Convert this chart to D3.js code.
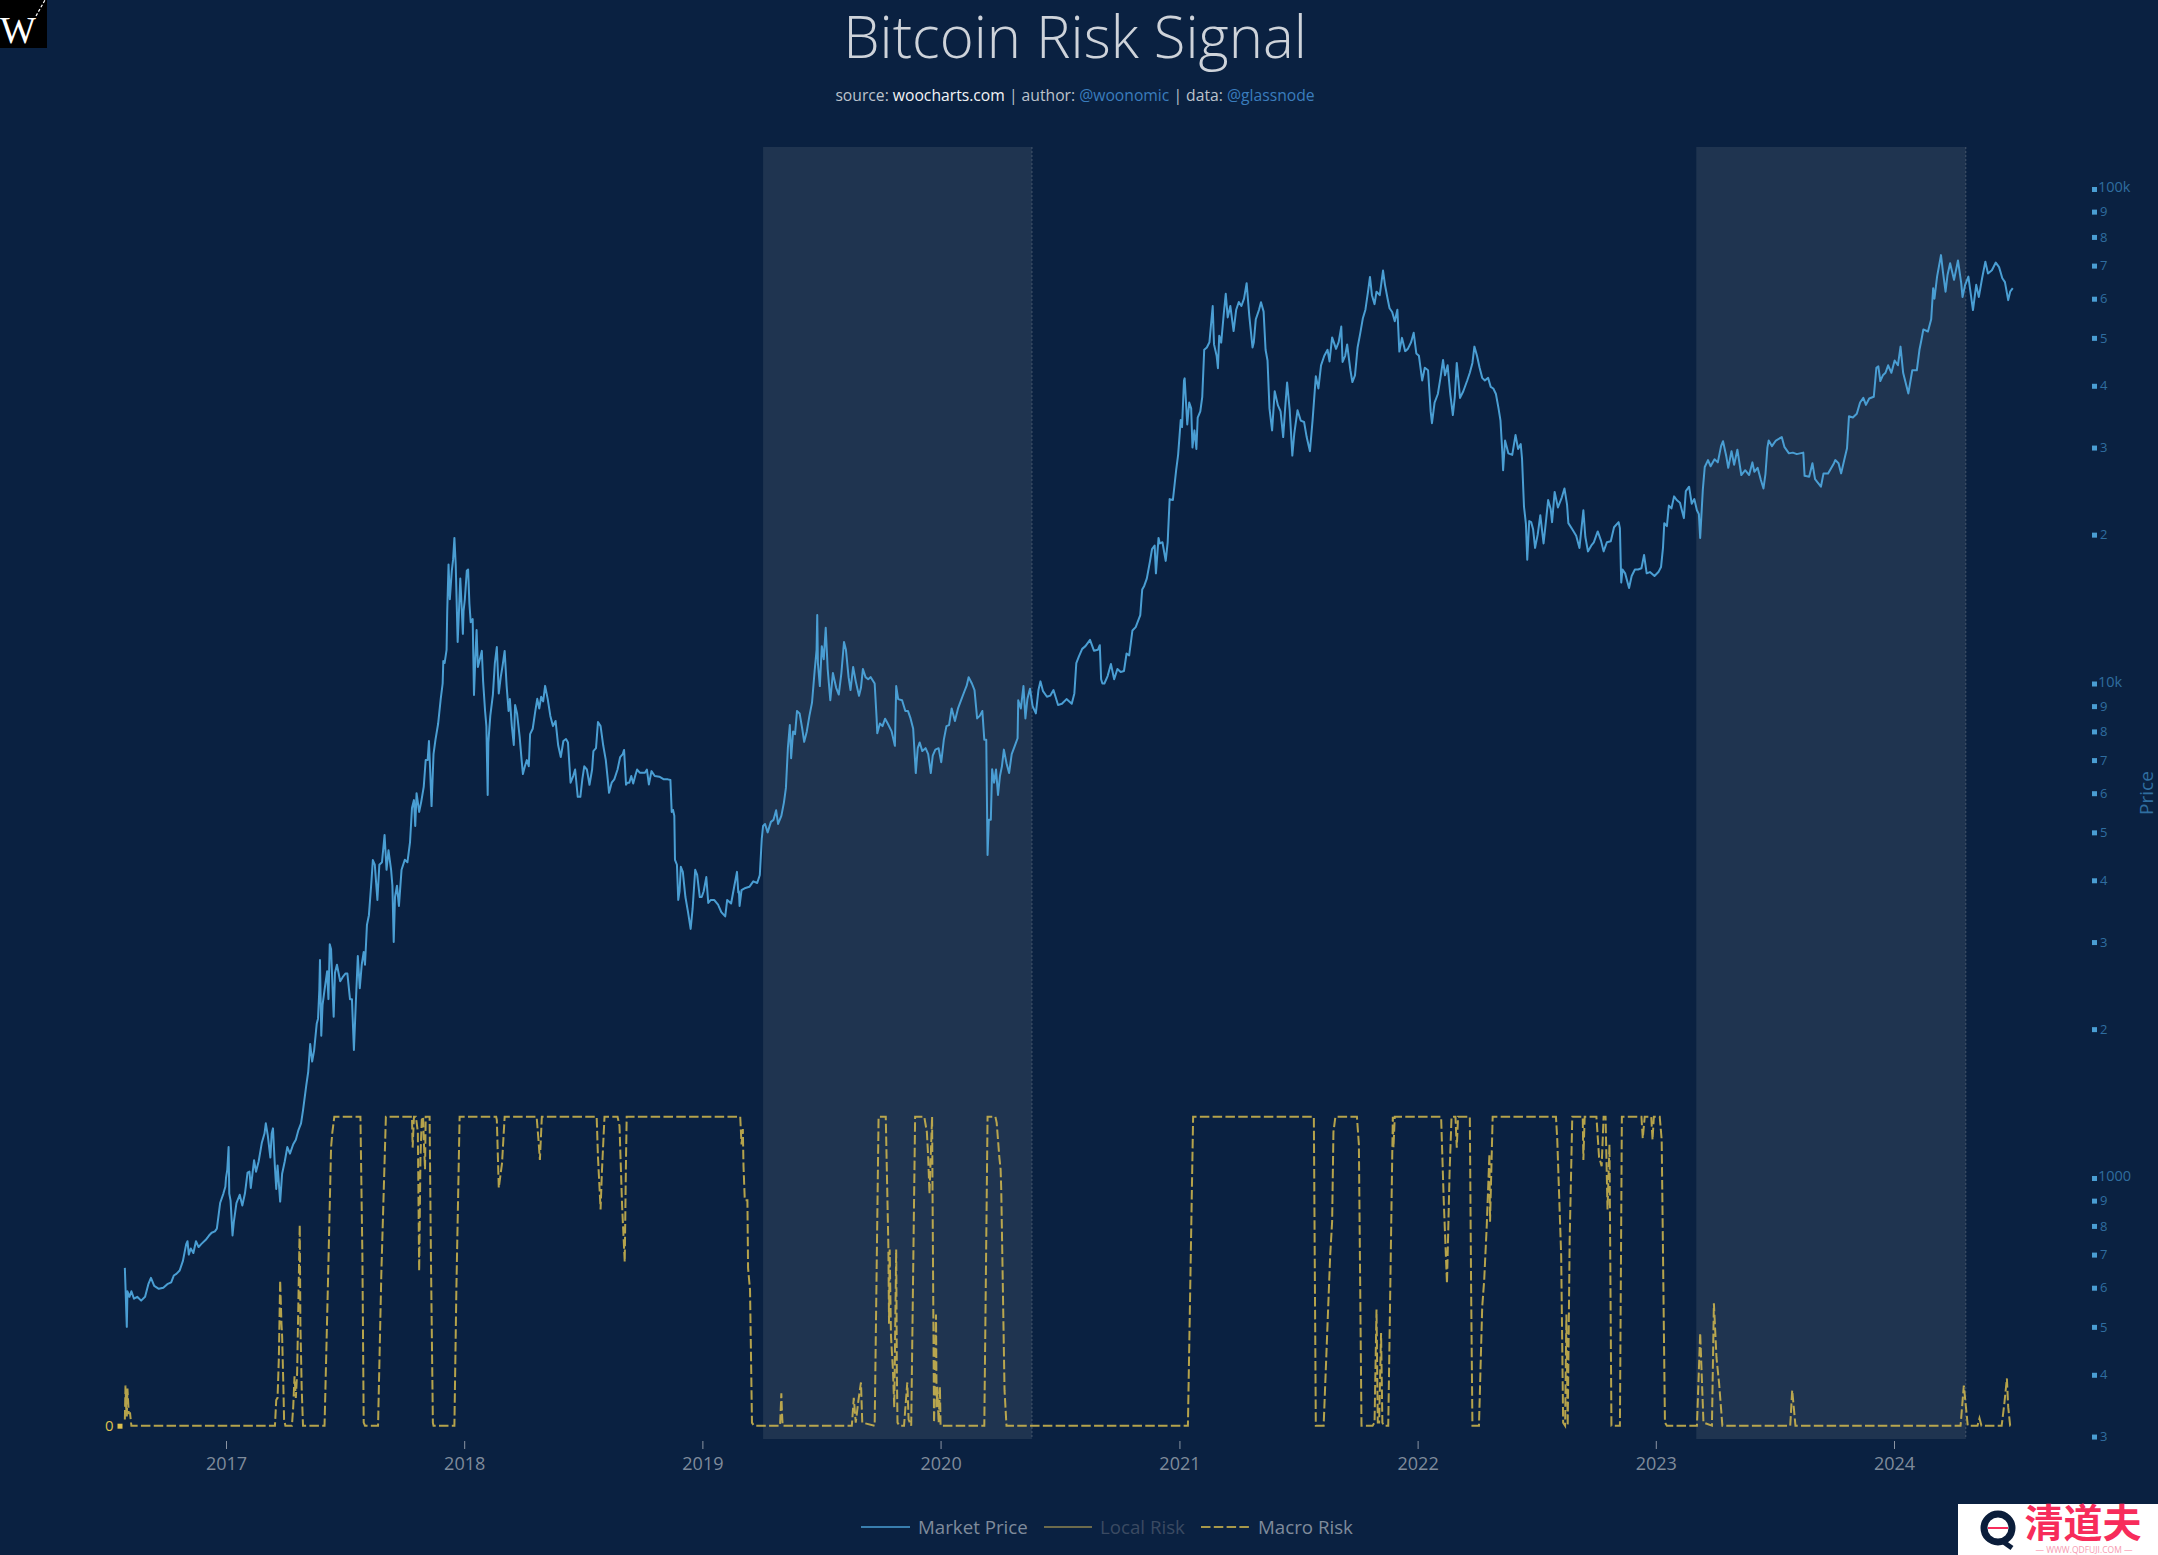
<!DOCTYPE html>
<html>
<head>
<meta charset="utf-8">
<title>Bitcoin Risk Signal</title>
<script src="https://cdnjs.cloudflare.com/ajax/libs/d3/7.8.5/d3.min.js"></script>
<style>
  html, body { margin: 0; padding: 0; background: #0a2141; }
  svg { display: block; font-family: "Open Sans", sans-serif; }
</style>
</head>
<body>
<svg id="chart" width="2158" height="1555"></svg>
<script>
// Market price, one array per year
const price2016 = [["2016-07-30",658],["2016-08-02",500],["2016-08-03",590],["2016-08-06",575],["2016-08-09",590],["2016-08-13",570],["2016-08-18",575],["2016-08-24",565],["2016-08-30",575],["2016-09-04",610],["2016-09-08",628],["2016-09-13",605],["2016-09-20",597],["2016-09-27",600],["2016-10-03",610],["2016-10-09",615],["2016-10-13",635],["2016-10-17",640],["2016-10-22",650],["2016-10-27",680],["2016-11-01",735],["2016-11-03",745],["2016-11-05",700],["2016-11-08",720],["2016-11-12",705],["2016-11-16",745],["2016-11-20",725],["2016-11-24",735],["2016-12-01",750],["2016-12-06",765],["2016-12-10",775],["2016-12-15",780],["2016-12-18",790],["2016-12-23",890],["2016-12-28",930],["2016-12-31",960]];
const price2017 = [["2017-01-01",1000],["2017-01-03",1040],["2017-01-05",1155],["2017-01-06",930],["2017-01-08",900],["2017-01-11",765],["2017-01-13",815],["2017-01-17",890],["2017-01-22",925],["2017-01-26",880],["2017-01-30",930],["2017-02-03",1025],["2017-02-06",1030],["2017-02-08",955],["2017-02-13",1086],["2017-02-16",1030],["2017-02-20",1080],["2017-02-25",1180],["2017-03-01",1230],["2017-03-03",1290],["2017-03-06",1220],["2017-03-10",1100],["2017-03-12",1230],["2017-03-14",1260],["2017-03-17",1050],["2017-03-19",950],["2017-03-21",1060],["2017-03-25",896],["2017-03-28",1020],["2017-04-01",1080],["2017-04-05",1155],["2017-04-09",1120],["2017-04-14",1170],["2017-04-18",1195],["2017-04-22",1250],["2017-04-26",1290],["2017-04-29",1370],["2017-05-04",1540],["2017-05-07",1640],["2017-05-10",1866],["2017-05-13",1720],["2017-05-16",1810],["2017-05-20",2050],["2017-05-22",2100],["2017-05-24",2400],["2017-05-25",2760],["2017-05-27",1940],["2017-05-29",2240],["2017-06-01",2400],["2017-06-05",2620],["2017-06-07",2300],["2017-06-09",2970],["2017-06-11",2900],["2017-06-15",2118],["2017-06-17",2600],["2017-06-20",2700],["2017-06-25",2500],["2017-06-29",2550],["2017-07-03",2590],["2017-07-06",2590],["2017-07-10",2300],["2017-07-13",2300],["2017-07-16",1815],["2017-07-19",2270],["2017-07-22",2810],["2017-07-25",2420],["2017-07-28",2700],["2017-07-31",2864],["2017-08-02",2700],["2017-08-05",3250],["2017-08-08",3400],["2017-08-12",4000],["2017-08-14",4395],["2017-08-17",4300],["2017-08-21",3650],["2017-08-24",4300],["2017-08-28",4350],["2017-09-01",4940],["2017-09-04",4200],["2017-09-07",4600],["2017-09-11",4200],["2017-09-13",3900],["2017-09-15",3000],["2017-09-17",3700],["2017-09-20",3900],["2017-09-23",3550],["2017-09-27",4200],["2017-10-02",4400],["2017-10-06",4350],["2017-10-10",4780],["2017-10-13",5600],["2017-10-16",5810],["2017-10-18",5150],["2017-10-20",6000],["2017-10-24",5500],["2017-10-27",5750],["2017-10-31",6180],["2017-11-03",7000],["2017-11-06",7000],["2017-11-08",7650],["2017-11-10",6600],["2017-11-12",5650],["2017-11-15",7200],["2017-11-18",7700],["2017-11-22",8280],["2017-11-26",9300],["2017-11-29",10000],["2017-11-30",11100],["2017-12-02",11000],["2017-12-05",11700],["2017-12-06",14000],["2017-12-08",17400],["2017-12-10",14800],["2017-12-13",16900],["2017-12-15",17800],["2017-12-17",19700],["2017-12-19",17400],["2017-12-22",12130],["2017-12-24",14000],["2017-12-26",16300],["2017-12-28",14400],["2017-12-30",12600],["2017-12-31",14000]];
const price2018 = [["2018-01-02",14800],["2018-01-05",16900],["2018-01-07",17000],["2018-01-09",14500],["2018-01-11",13300],["2018-01-14",13500],["2018-01-16",9480],["2018-01-18",11200],["2018-01-20",12830],["2018-01-22",10800],["2018-01-25",11200],["2018-01-28",11640],["2018-01-30",10100],["2018-02-02",8800],["2018-02-04",8200],["2018-02-06",5950],["2018-02-07",7600],["2018-02-10",8600],["2018-02-14",9500],["2018-02-17",11000],["2018-02-20",11850],["2018-02-23",9550],["2018-02-26",10300],["2018-03-01",10900],["2018-03-04",11640],["2018-03-07",9900],["2018-03-10",8800],["2018-03-12",9300],["2018-03-15",8200],["2018-03-18",7510],["2018-03-20",9050],["2018-03-23",8700],["2018-03-27",7800],["2018-03-30",7000],["2018-04-01",6560],["2018-04-04",6800],["2018-04-07",7000],["2018-04-10",6800],["2018-04-12",7900],["2018-04-16",8100],["2018-04-20",8800],["2018-04-23",9310],["2018-04-26",8900],["2018-04-29",9400],["2018-05-02",9200],["2018-05-05",9890],["2018-05-09",9300],["2018-05-13",8600],["2018-05-17",8200],["2018-05-21",8400],["2018-05-25",7500],["2018-05-29",7100],["2018-06-02",7650],["2018-06-06",7720],["2018-06-09",7600],["2018-06-13",6300],["2018-06-17",6500],["2018-06-20",6700],["2018-06-24",5900],["2018-06-28",5900],["2018-07-01",6400],["2018-07-04",6800],["2018-07-08",6700],["2018-07-12",6240],["2018-07-16",6700],["2018-07-18",7300],["2018-07-22",7400],["2018-07-25",8360],["2018-07-29",8200],["2018-08-02",7500],["2018-08-06",7000],["2018-08-09",6400],["2018-08-11",6010],["2018-08-15",6300],["2018-08-19",6400],["2018-08-24",6700],["2018-08-28",7100],["2018-09-01",7200],["2018-09-03",7340],["2018-09-06",6240],["2018-09-08",6300],["2018-09-11",6300],["2018-09-14",6500],["2018-09-17",6280],["2018-09-20",6500],["2018-09-23",6700],["2018-09-27",6600],["2018-10-01",6600],["2018-10-05",6600],["2018-10-08",6700],["2018-10-11",6250],["2018-10-15",6650],["2018-10-20",6500],["2018-10-27",6480],["2018-11-03",6400],["2018-11-09",6400],["2018-11-13",6380],["2018-11-15",5500],["2018-11-17",5550],["2018-11-19",5400],["2018-11-20",4400],["2018-11-23",4300],["2018-11-25",3650],["2018-11-27",3800],["2018-11-29",4260],["2018-12-02",4160],["2018-12-06",3700],["2018-12-10",3450],["2018-12-14",3190],["2018-12-17",3500],["2018-12-21",4200],["2018-12-24",4100],["2018-12-28",3700],["2018-12-31",3700]];
const price2019 = [["2019-01-03",3800],["2019-01-07",4060],["2019-01-10",3600],["2019-01-14",3650],["2019-01-19",3650],["2019-01-25",3570],["2019-01-30",3450],["2019-02-05",3380],["2019-02-08",3650],["2019-02-14",3590],["2019-02-19",3900],["2019-02-23",4160],["2019-02-25",3780],["2019-02-26",3800],["2019-02-27",3550],["2019-03-02",3820],["2019-03-08",3860],["2019-03-14",3880],["2019-03-20",3980],["2019-03-26",3950],["2019-03-30",4100],["2019-04-02",4850],["2019-04-04",5150],["2019-04-07",5200],["2019-04-11",5000],["2019-04-16",5250],["2019-04-20",5300],["2019-04-24",5540],["2019-04-27",5200],["2019-05-02",5400],["2019-05-06",5750],["2019-05-09",6150],["2019-05-12",7400],["2019-05-15",8240],["2019-05-17",7060],["2019-05-20",8000],["2019-05-23",7900],["2019-05-26",8800],["2019-05-30",8700],["2019-06-03",8100],["2019-06-06",7620],["2019-06-10",8000],["2019-06-14",8600],["2019-06-18",9150],["2019-06-22",10600],["2019-06-25",11700],["2019-06-26",13760],["2019-06-27",11000],["2019-06-30",9880],["2019-07-03",11900],["2019-07-06",11200],["2019-07-09",12960],["2019-07-12",10700],["2019-07-16",9250],["2019-07-20",10500],["2019-07-25",9800],["2019-07-29",9500],["2019-08-02",10500],["2019-08-06",12130],["2019-08-09",11700],["2019-08-13",10300],["2019-08-16",9700],["2019-08-20",10800],["2019-08-24",10100],["2019-08-29",9440],["2019-09-01",9800],["2019-09-04",10700],["2019-09-08",10300],["2019-09-12",10200],["2019-09-16",10300],["2019-09-22",10000],["2019-09-25",8500],["2019-09-26",7930],["2019-09-30",8300],["2019-10-04",8200],["2019-10-08",8490],["2019-10-12",8300],["2019-10-18",8000],["2019-10-23",7480],["2019-10-25",9880],["2019-10-28",9300],["2019-11-03",9250],["2019-11-08",8800],["2019-11-12",8800],["2019-11-16",8500],["2019-11-20",8100],["2019-11-24",6590],["2019-11-27",7400],["2019-11-30",7600],["2019-12-04",7300],["2019-12-09",7400],["2019-12-13",7200],["2019-12-17",6590],["2019-12-20",7150],["2019-12-24",7350],["2019-12-29",7400]];
const price2020 = [["2020-01-02",6930],["2020-01-06",7700],["2020-01-10",8200],["2020-01-14",8240],["2020-01-18",8900],["2020-01-23",8400],["2020-01-28",8930],["2020-02-02",9300],["2020-02-06",9600],["2020-02-10",9900],["2020-02-13",10300],["2020-02-18",10000],["2020-02-22",9700],["2020-02-26",8500],["2020-03-01",8600],["2020-03-05",8800],["2020-03-08",7700],["2020-03-11",7700],["2020-03-13",4500],["2020-03-15",5300],["2020-03-18",5300],["2020-03-20",6710],["2020-03-23",6300],["2020-03-26",6700],["2020-03-29",5950],["2020-04-01",6500],["2020-04-04",6800],["2020-04-07",7350],["2020-04-11",6900],["2020-04-15",6590],["2020-04-19",7200],["2020-04-24",7500],["2020-04-28",7750],["2020-04-29",9250],["2020-05-03",8900],["2020-05-07",9880],["2020-05-10",8500],["2020-05-13",9300],["2020-05-17",9760],["2020-05-21",9000],["2020-05-26",8700],["2020-05-30",9700],["2020-06-02",10100],["2020-06-06",9650],["2020-06-12",9400],["2020-06-17",9450],["2020-06-22",9700],["2020-06-29",9050],["2020-07-05",9100],["2020-07-12",9300],["2020-07-20",9100],["2020-07-24",9550],["2020-07-27",11000],["2020-07-31",11350],["2020-08-05",11750],["2020-08-10",11900],["2020-08-17",12250],["2020-08-23",11650],["2020-08-29",11700],["2020-09-01",11950],["2020-09-03",10200],["2020-09-05",10000],["2020-09-08",10000],["2020-09-13",10350],["2020-09-18",10950],["2020-09-23",10200],["2020-09-28",10700],["2020-10-03",10550],["2020-10-08",10600],["2020-10-12",11500],["2020-10-16",11400],["2020-10-21",12800],["2020-10-26",13000],["2020-11-02",13750],["2020-11-05",15500],["2020-11-08",15750],["2020-11-12",16300],["2020-11-17",17700],["2020-11-20",18700],["2020-11-24",19000],["2020-11-26",16700],["2020-11-30",19700],["2020-12-02",19200],["2020-12-06",19300],["2020-12-11",17700],["2020-12-14",19300],["2020-12-17",23600],["2020-12-22",23500],["2020-12-27",27000],["2020-12-30",29000]];
const price2021 = [["2021-01-03",34100],["2021-01-05",33000],["2021-01-08",41000],["2021-01-09",41400],["2021-01-13",33400],["2021-01-16",37000],["2021-01-19",36000],["2021-01-21",30000],["2021-01-24",32500],["2021-01-27",29800],["2021-01-29",34500],["2021-02-02",35500],["2021-02-05",38000],["2021-02-08",47300],["2021-02-12",47800],["2021-02-16",49000],["2021-02-21",58000],["2021-02-23",48500],["2021-02-27",46000],["2021-03-01",43400],["2021-03-03",50500],["2021-03-06",48900],["2021-03-10",56000],["2021-03-13",61400],["2021-03-16",55000],["2021-03-20",58000],["2021-03-25",51600],["2021-03-29",57000],["2021-04-02",59100],["2021-04-06",58000],["2021-04-10",60000],["2021-04-14",64500],["2021-04-18",55500],["2021-04-23",47800],["2021-04-25",49000],["2021-04-28",54500],["2021-05-03",57000],["2021-05-06",59000],["2021-05-10",56500],["2021-05-13",47300],["2021-05-16",45000],["2021-05-19",36000],["2021-05-23",32500],["2021-05-27",39000],["2021-06-01",36500],["2021-06-05",35500],["2021-06-09",31500],["2021-06-12",36000],["2021-06-15",40600],["2021-06-19",35700],["2021-06-23",28900],["2021-06-26",32000],["2021-07-01",35700],["2021-07-06",34000],["2021-07-11",33800],["2021-07-15",31500],["2021-07-20",29500],["2021-07-24",34000],["2021-07-29",41800],["2021-08-02",39500],["2021-08-06",44000],["2021-08-11",46000],["2021-08-16",47300],["2021-08-19",44800],["2021-08-23",50100],["2021-08-29",47500],["2021-09-02",49000],["2021-09-06",52700],["2021-09-08",44700],["2021-09-12",46000],["2021-09-15",48500],["2021-09-20",43000],["2021-09-23",40700],["2021-09-27",42000],["2021-10-01",47800],["2021-10-05",51000],["2021-10-09",54700],["2021-10-13",57000],["2021-10-17",62000],["2021-10-20",66400],["2021-10-23",61000],["2021-10-27",58500],["2021-10-30",62000],["2021-11-04",61000],["2021-11-09",68400],["2021-11-12",64000],["2021-11-16",60000],["2021-11-19",57400],["2021-11-23",56400],["2021-11-27",54000],["2021-12-01",57000],["2021-12-04",46900],["2021-12-08",50000],["2021-12-13",47000],["2021-12-17",47500],["2021-12-22",49000],["2021-12-26",51200],["2021-12-30",46500]];
const price2022 = [["2022-01-03",46000],["2022-01-08",41000],["2022-01-12",43500],["2022-01-17",43000],["2022-01-21",35500],["2022-01-23",33600],["2022-01-27",37000],["2022-02-01",38500],["2022-02-05",41500],["2022-02-09",45100],["2022-02-12",42000],["2022-02-16",44000],["2022-02-20",38500],["2022-02-24",34900],["2022-02-27",38000],["2022-03-02",44500],["2022-03-07",37800],["2022-03-12",39000],["2022-03-18",41000],["2022-03-22",42500],["2022-03-26",44500],["2022-03-29",48000],["2022-04-02",46000],["2022-04-06",43500],["2022-04-10",41500],["2022-04-14",41000],["2022-04-19",41500],["2022-04-23",39800],["2022-04-27",39500],["2022-05-01",38500],["2022-05-05",36000],["2022-05-08",34000],["2022-05-11",29000],["2022-05-12",27000],["2022-05-15",31000],["2022-05-20",29200],["2022-05-26",29000],["2022-05-31",31800],["2022-06-04",29800],["2022-06-08",30500],["2022-06-10",28500],["2022-06-13",22800],["2022-06-16",21000],["2022-06-18",17800],["2022-06-21",21300],["2022-06-24",21200],["2022-06-27",20500],["2022-06-30",18800],["2022-07-04",20000],["2022-07-08",21900],["2022-07-13",19200],["2022-07-17",21500],["2022-07-20",23500],["2022-07-24",22500],["2022-07-26",21200],["2022-07-30",24400],["2022-08-04",22700],["2022-08-10",23800],["2022-08-14",24800],["2022-08-18",23000],["2022-08-20",21100],["2022-08-26",20500],["2022-09-01",19900],["2022-09-06",18800],["2022-09-12",22400],["2022-09-15",19800],["2022-09-19",18500],["2022-09-24",19000],["2022-09-28",19300],["2022-10-04",20300],["2022-10-09",19450],["2022-10-13",18500],["2022-10-18",19300],["2022-10-24",19400],["2022-10-29",20700],["2022-11-05",21200],["2022-11-07",20600],["2022-11-09",16000],["2022-11-11",17000],["2022-11-15",16700],["2022-11-21",15600],["2022-11-25",16500],["2022-11-30",17000],["2022-12-05",17000],["2022-12-10",17100],["2022-12-14",18200],["2022-12-18",16700],["2022-12-23",16800],["2022-12-30",16500]];
const price2023 = [["2023-01-05",16800],["2023-01-09",17200],["2023-01-12",18800],["2023-01-14",21100],["2023-01-18",20800],["2023-01-21",22900],["2023-01-25",22600],["2023-01-29",23900],["2023-02-02",23500],["2023-02-07",23200],["2023-02-13",21600],["2023-02-16",24500],["2023-02-21",25000],["2023-02-25",23100],["2023-03-01",23600],["2023-03-05",22400],["2023-03-08",22000],["2023-03-10",19700],["2023-03-12",22000],["2023-03-14",24600],["2023-03-17",27400],["2023-03-22",28300],["2023-03-26",27500],["2023-04-01",28400],["2023-04-06",28000],["2023-04-11",30200],["2023-04-14",30900],["2023-04-19",28800],["2023-04-22",27300],["2023-04-27",29500],["2023-05-01",27700],["2023-05-06",29700],["2023-05-12",26400],["2023-05-18",27000],["2023-05-24",26400],["2023-05-29",28000],["2023-06-01",26800],["2023-06-06",27300],["2023-06-11",25800],["2023-06-15",24800],["2023-06-18",26500],["2023-06-21",30000],["2023-06-23",31000],["2023-06-28",30200],["2023-07-04",31000],["2023-07-13",31500],["2023-07-17",30100],["2023-07-24",29200],["2023-07-30",29300],["2023-08-05",29100],["2023-08-15",29300],["2023-08-17",26300],["2023-08-24",26200],["2023-08-29",27900],["2023-09-02",25900],["2023-09-11",25000],["2023-09-15",26600],["2023-09-22",26600],["2023-10-01",27900],["2023-10-03",28300],["2023-10-08",27900],["2023-10-12",26600],["2023-10-17",28400],["2023-10-21",29900],["2023-10-24",34700],["2023-10-30",34500],["2023-11-05",35100],["2023-11-10",37000],["2023-11-15",37800],["2023-11-19",36600],["2023-11-24",37700],["2023-12-01",38000],["2023-12-05",43500],["2023-12-08",43800],["2023-12-11",40900],["2023-12-15",42000],["2023-12-19",42500],["2023-12-23",44000],["2023-12-28",42500]];
const price2024 = [["2024-01-02",45000],["2024-01-07",44000],["2024-01-11",48000],["2024-01-15",42500],["2024-01-23",38600],["2024-01-29",43000],["2024-02-05",43000],["2024-02-09",47300],["2024-02-12",49500],["2024-02-15",52000],["2024-02-22",51500],["2024-02-27",54500],["2024-03-01",63000],["2024-03-03",60000],["2024-03-07",66500],["2024-03-13",73500],["2024-03-16",68000],["2024-03-20",62000],["2024-03-23",67000],["2024-03-27",70800],["2024-04-02",65500],["2024-04-08",71700],["2024-04-13",64500],["2024-04-15",60500],["2024-04-19",64000],["2024-04-24",66500],["2024-05-01",56900],["2024-05-06",64000],["2024-05-10",60500],["2024-05-15",66000],["2024-05-20",71300],["2024-05-24",67500],["2024-05-30",68500],["2024-06-05",71000],["2024-06-10",69500],["2024-06-15",66000],["2024-06-19",64800],["2024-06-24",59600],["2024-06-27",62000],["2024-07-01",63000]];

// Macro risk, 0 to 1
const macro2016 = [["2016-07-30",0.02],["2016-07-31",0.13],["2016-08-01",0.06],["2016-08-02",0.03],["2016-08-03",0.12],["2016-08-05",0.04],["2016-08-07",0.04],["2016-08-09",0]];
const macro2017 = [["2017-03-17",0],["2017-03-19",0.083],["2017-03-21",0.09],["2017-03-23",0.22],["2017-03-25",0.47],["2017-03-27",0.33],["2017-03-28",0.29],["2017-03-30",0.12],["2017-03-31",0.02],["2017-04-02",0],["2017-04-12",0],["2017-04-14",0.06],["2017-04-16",0.16],["2017-04-18",0.09],["2017-04-20",0.17],["2017-04-24",0.65],["2017-04-25",0.33],["2017-04-27",0.12],["2017-04-29",0],["2017-06-01",0],["2017-06-06",0.44],["2017-06-11",0.9],["2017-06-13",0.95],["2017-06-16",1],["2017-07-26",1],["2017-07-29",0.55],["2017-07-31",0.01],["2017-08-02",0],["2017-08-22",0],["2017-08-27",0.49],["2017-09-03",1],["2017-10-13",1],["2017-10-14",0.9],["2017-10-16",1],["2017-10-19",1],["2017-10-22",0.95],["2017-10-24",0.5],["2017-10-26",0.87],["2017-10-28",0.99],["2017-10-30",1],["2017-10-31",0.93],["2017-11-02",0.83],["2017-11-03",1],["2017-11-09",1],["2017-11-11",0.55],["2017-11-14",0.01],["2017-11-15",0],["2017-12-17",0],["2017-12-20",0.44],["2017-12-25",1]];
const macro2018 = [["2018-02-19",1],["2018-02-20",0.99],["2018-02-23",0.77],["2018-02-28",0.85],["2018-03-04",1],["2018-04-22",1],["2018-04-25",0.92],["2018-04-27",0.86],["2018-04-30",1],["2018-07-23",1],["2018-07-25",0.87],["2018-07-29",0.7],["2018-07-31",0.82],["2018-08-04",1],["2018-08-24",1],["2018-08-27",0.97],["2018-08-31",0.71],["2018-09-04",0.53],["2018-09-06",0.87],["2018-09-07",1]];
const macro2019 = [["2019-02-28",1],["2019-03-02",0.91],["2019-03-04",0.96],["2019-03-05",0.84],["2019-03-07",0.73],["2019-03-11",0.73],["2019-03-12",0.51],["2019-03-15",0.44],["2019-03-18",0.01],["2019-03-21",0],["2019-04-30",0],["2019-05-01",0.05],["2019-05-02",0.105],["2019-05-03",0.04],["2019-05-04",0],["2019-08-18",0],["2019-08-21",0.09],["2019-08-24",0.01],["2019-08-28",0.08],["2019-09-01",0.14],["2019-09-03",0.01],["2019-09-22",0],["2019-09-28",1],["2019-10-03",1],["2019-10-09",1],["2019-10-13",0.58],["2019-10-14",0.33],["2019-10-15",0.57],["2019-10-17",0.29],["2019-10-20",0.18],["2019-10-22",0.06],["2019-10-25",0.57],["2019-10-26",0.17],["2019-10-27",0.01],["2019-10-30",0],["2019-11-06",0],["2019-11-11",0.14],["2019-11-13",0.02],["2019-11-17",0],["2019-11-23",1],["2019-12-07",1],["2019-12-11",0.95],["2019-12-13",0.87],["2019-12-15",0.75],["2019-12-19",1],["2019-12-20",0.65],["2019-12-22",0.01],["2019-12-25",0.36],["2019-12-26",0.06],["2019-12-27",0.126],["2019-12-29",0.01],["2019-12-31",0.126]];
const macro2020 = [["2020-01-01",0],["2020-03-08",0],["2020-03-13",1],["2020-03-25",1],["2020-03-27",0.98],["2020-03-31",0.87],["2020-04-02",0.83],["2020-04-03",0.76],["2020-04-08",0.115],["2020-04-11",0]];
const macro2021 = [["2021-01-14",0],["2021-01-22",1],["2021-07-26",1],["2021-07-29",0],["2021-08-10",0],["2021-08-20",0.55],["2021-08-23",0.66],["2021-08-25",0.95],["2021-08-28",1],["2021-09-30",1],["2021-10-03",0.91],["2021-10-07",0],["2021-10-24",0],["2021-10-27",0.01],["2021-10-30",0.376],["2021-11-01",0.01],["2021-11-03",0.01],["2021-11-06",0.3],["2021-11-08",0.01],["2021-11-10",0],["2021-11-17",0],["2021-11-24",1],["2021-11-25",0.9],["2021-11-27",1]];
const macro2022 = [["2022-02-06",1],["2022-02-10",0.73],["2022-02-15",0.46],["2022-02-19",0.82],["2022-02-22",1],["2022-02-28",1],["2022-03-02",0.9],["2022-03-04",1],["2022-03-22",1],["2022-03-24",0.44],["2022-03-26",0],["2022-04-05",0],["2022-04-10",0.385],["2022-04-13",0.47],["2022-04-17",0.65],["2022-04-21",0.88],["2022-04-22",0.66],["2022-04-26",1],["2022-08-01",1],["2022-08-03",0.925],["2022-08-09",0.55],["2022-08-12",0.01],["2022-08-15",0],["2022-08-17",0.36],["2022-08-19",0],["2022-08-22",0.6],["2022-08-26",1],["2022-09-11",1],["2022-09-12",0.86],["2022-09-14",1],["2022-10-02",1],["2022-10-06",0.87],["2022-10-10",0.84],["2022-10-13",1],["2022-10-16",1],["2022-10-19",0.7],["2022-10-22",0.91],["2022-10-25",0],["2022-11-07",0],["2022-11-10",1],["2022-12-10",1],["2022-12-12",0.93],["2022-12-15",1],["2022-12-25",1],["2022-12-27",0.925],["2022-12-29",1]];
const macro2023 = [["2023-01-07",1],["2023-01-10",0.925],["2023-01-15",0.01],["2023-01-18",0],["2023-03-05",0],["2023-03-10",0.3],["2023-03-15",0.01],["2023-03-28",0],["2023-03-31",0.396],["2023-04-04",0.22],["2023-04-08",0.137],["2023-04-13",0],["2023-07-26",0],["2023-07-29",0.115],["2023-08-03",0]];
const macro2024 = [["2024-04-12",0],["2024-04-17",0.13],["2024-04-23",0],["2024-05-08",0],["2024-05-11",0.024],["2024-05-14",0],["2024-06-14",0],["2024-06-18",0.07],["2024-06-22",0.153],["2024-06-24",0.06],["2024-06-27",0],["2024-07-01",0]];

// Shaded periods
const bandStarts = ["2019-04-04", "2023-03-04"];
const bandEnds = ["2020-05-20", "2024-04-20"];

const yearTicks = [2017, 2018, 2019, 2020, 2021, 2022, 2023, 2024];
const priceTicks = [100000, 90000, 80000, 70000, 60000, 50000, 40000, 30000, 20000,
  10000, 9000, 8000, 7000, 6000, 5000, 4000, 3000, 2000,
  1000, 900, 800, 700, 600, 500, 400, 300];
const priceTickNames = { 100000: "100k", 10000: "10k", 1000: "1000" };

const legendNames = ["Market Price", "Local Risk", "Macro Risk"];

const day = s => d3.utcParse("%Y-%m-%d")(s);

const background = "#0a2141";
const blue = "#4a9ed3";
const dimBlue = "#2f6d9f";
const gold = "#dcc04e";

const svg = d3.select("#chart");
svg.append("rect").attr("width", 2158).attr("height", 1555).attr("fill", background);

// Scales, pinned on the tick positions of the reference
const x = d3.scaleUtc()
  .domain([Date.UTC(2017, 0, 1), Date.UTC(2024, 0, 1)])
  .range([226, 1894]);
const y = d3.scaleLog().domain([1000, 100000]).range([1178, 189]);
const yRisk = d3.scaleLinear().domain([0, 1]).range([1425.7, 1116.7]);

// Shaded bands
const bandTop = 147, bandBottom = 1439;
const bands = svg.append("g");
bandStarts.forEach((start, i) => {
  const x0 = x(day(start)), x1 = x(day(bandEnds[i]));
  bands.append("rect")
    .attr("x", x0).attr("y", bandTop)
    .attr("width", x1 - x0).attr("height", bandBottom - bandTop)
    .attr("fill", "#1f3450");
  bands.append("line")
    .attr("x1", x1).attr("x2", x1).attr("y1", bandTop).attr("y2", bandBottom)
    .attr("stroke", "#46566c").attr("stroke-width", 1).attr("stroke-dasharray", "2,2");
});

// Lines
const priceSeries = [].concat(price2016, price2017, price2018, price2019, price2020, price2021, price2022, price2023, price2024);
const macroSeries = [].concat(macro2016, macro2017, macro2018, macro2019, macro2020, macro2021, macro2022, macro2023, macro2024);

const priceLine = d3.line().x(d => x(day(d[0]))).y(d => y(d[1]));
const riskLine = d3.line().x(d => x(day(d[0]))).y(d => yRisk(d[1]));

svg.append("path").datum(macroSeries)
  .attr("d", riskLine).attr("fill", "none")
  .attr("stroke", gold).attr("stroke-width", 2)
  .attr("stroke-dasharray", "9.5,3.3").attr("opacity", 0.82);

svg.append("path").datum(priceSeries)
  .attr("d", priceLine).attr("fill", "none")
  .attr("stroke", blue).attr("stroke-width", 2)
  .attr("stroke-linejoin", "round");

// X axis
const xAxis = d3.axisBottom(x)
  .tickValues(yearTicks.map(yr => new Date(Date.UTC(yr, 0, 1))))
  .tickFormat(d3.utcFormat("%Y"))
  .tickSize(8).tickPadding(8).tickSizeOuter(0);
const xg = svg.append("g").attr("transform", "translate(0,1441)").call(xAxis);
xg.select(".domain").remove();
xg.selectAll("line").attr("stroke", "#8a94a3").attr("stroke-width", 1);
xg.selectAll("text").attr("fill", "#7f8b9b").style("font-size", "18px").style("font-family", '"Open Sans", sans-serif');

// Price axis on the right, its ticks are little squares
const yAxis = d3.axisRight(y)
  .tickValues(priceTicks)
  .tickFormat(d => priceTickNames[d] || String(d).charAt(0))
  .tickSize(5).tickPadding(3);
const yg = svg.append("g").attr("transform", "translate(2092,0)").call(yAxis);
yg.select(".domain").remove();
yg.selectAll("line").attr("stroke", blue).attr("stroke-width", 5);
yg.selectAll("text")
  .attr("fill", dimBlue)
  .style("font-family", '"Open Sans", sans-serif')
  .style("font-size", d => priceTickNames[d] ? "14.5px" : "13px")
  .attr("x", d => priceTickNames[d] ? 6 : 8)
  .attr("y", d => priceTickNames[d] ? -2 : 0);

// The single 0 tick of the risk axis
const riskAxis = d3.axisLeft(yRisk).tickValues([0]).tickFormat(d3.format("d")).tickSize(5).tickPadding(4);
const rg = svg.append("g").attr("transform", "translate(122.5,0)").call(riskAxis);
rg.select(".domain").remove();
rg.selectAll("line").attr("stroke", gold).attr("stroke-width", 5);
rg.selectAll("text").attr("fill", gold).style("font-size", "15px").style("font-family", '"Open Sans", sans-serif');

svg.append("text")
  .attr("transform", "translate(2146,793) rotate(-90)")
  .attr("text-anchor", "middle").attr("dominant-baseline", "central")
  .attr("fill", dimBlue).style("font-size", "19px")
  .text("Price");

// Title
svg.append("text")
  .attr("x", 1075).attr("y", 58).attr("text-anchor", "middle")
  .attr("fill", "#ced3da").style("font-size", "58px").style("font-weight", 300)
  .text("Bitcoin Risk Signal");

const sub = svg.append("text")
  .attr("x", 1075).attr("y", 101).attr("text-anchor", "middle")
  .attr("fill", "#bcc3cc").style("font-size", "15.7px");
sub.append("tspan").text("source: ");
sub.append("tspan").attr("fill", "#f2f4f6").text("woocharts.com");
sub.append("tspan").text(" | author: ");
sub.append("tspan").attr("fill", "#3a7dbd").text("@woonomic");
sub.append("tspan").text(" | data: ");
sub.append("tspan").attr("fill", "#3a7dbd").text("@glassnode");

// Legend
const legendY = 1527;
const legendLines = [[861, 910, blue, null], [1044, 1092, "#8f8450", null], [1201, 1250, gold, "9.5,3.3"]];
const legendTextX = [918, 1100, 1258];
const legendColors = ["#7f8b9b", "#3a4a62", "#7f8b9b"];
legendNames.forEach((name, i) => {
  const l = legendLines[i];
  svg.append("line")
    .attr("x1", l[0]).attr("x2", l[1]).attr("y1", legendY).attr("y2", legendY)
    .attr("stroke", l[2]).attr("stroke-width", 1.5)
    .attr("stroke-dasharray", l[3]);
  svg.append("text")
    .attr("x", legendTextX[i]).attr("y", legendY + 7)
    .attr("fill", legendColors[i]).style("font-size", "18.7px")
    .text(name);
});

// W logo, top left
const logo = svg.append("g");
logo.append("rect").attr("width", 47).attr("height", 48).attr("fill", "#000");
logo.append("text")
  .attr("x", 0).attr("y", 43)
  .attr("fill", "#fff").style("font-family", '"Liberation Serif", serif').style("font-size", "38px")
  .text("W");
logo.append("line")
  .attr("x1", 36).attr("y1", 16).attr("x2", 45).attr("y2", 0)
  .attr("stroke", "#fff").attr("stroke-width", 1.2).attr("stroke-dasharray", "3,2");

// Watermark, bottom right
const mark = svg.append("g");
mark.append("rect").attr("x", 1958).attr("y", 1504).attr("width", 200).attr("height", 51).attr("fill", "#fff");
mark.append("circle").attr("cx", 1998).attr("cy", 1528).attr("r", 14)
  .attr("fill", "none").attr("stroke", "#0b1d3a").attr("stroke-width", 7);
mark.append("line").attr("x1", 1988).attr("x2", 2008).attr("y1", 1528).attr("y2", 1528)
  .attr("stroke", "#f72c5b").attr("stroke-width", 2);
mark.append("line").attr("x1", 2002).attr("x2", 2012).attr("y1", 1541).attr("y2", 1548)
  .attr("stroke", "#0b1d3a").attr("stroke-width", 5);
mark.append("text")
  .attr("x", 2083).attr("y", 1537).attr("text-anchor", "middle")
  .attr("fill", "#f72c5b")
  .style("font-family", '"Noto Sans CJK SC", sans-serif').style("font-weight", 700).style("font-size", "39px")
  .text("清道夫");
mark.append("text")
  .attr("x", 2084).attr("y", 1553).attr("text-anchor", "middle")
  .attr("fill", "#f79ab0").style("font-size", "8.5px")
  .text("— WWW.QDFUJI.COM —");
</script>
</body>
</html>
